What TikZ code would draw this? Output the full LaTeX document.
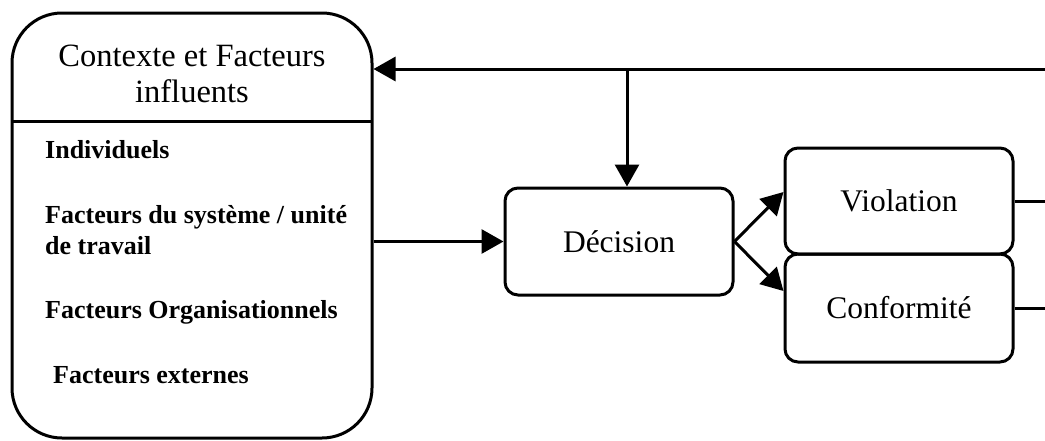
\documentclass[tikz,border=0pt]{standalone}
\usepackage{fontspec}
\setmainfont{Liberation Serif}
\usetikzlibrary{arrows.meta}
\tikzset{
  lw/.style={line width=3pt},
  arr/.style={lw, -{Triangle[length=22pt,width=24pt]}},
  bigbox/.style={draw, lw, rounded corners=50pt, inner sep=0pt},
  smallbox/.style={draw, lw, rounded corners=13pt, inner sep=0pt, minimum width=228pt, font=\fontsize{31.5}{36}\selectfont},
  titletxt/.style={inner sep=0pt, anchor=base, font=\fontsize{32.5}{36}\selectfont},
  itemtxt/.style={inner sep=0pt, anchor=base west, font=\bfseries\fontsize{26}{30}\selectfont},
}
\begin{document}
\begin{tikzpicture}[x=1pt,y=-1pt]
\useasboundingbox (0,0) rectangle (1045,440);
% big context box
\node[bigbox, minimum width=360pt, minimum height=425pt] (ctx) at (192,225.5) {};
\coordinate (divL) at (12,121);
\coordinate (divR) at (372,121);
\draw[lw] (divL) -- (divR);
\node[titletxt] (t1) at (192,66) {Contexte et Facteurs};
\node[titletxt] (t2) at (192,102) {influents};
\node[itemtxt] (i1) at (45,158) {Individuels};
\node[itemtxt] (i2) at (45,223) {Facteurs du système / unité};
\node[itemtxt] (i3) at (45,254) {de travail};
\node[itemtxt] (i4) at (45,318) {Facteurs Organisationnels};
\node[itemtxt] (i5) at (53,383) {Facteurs externes};
% process boxes
\node[smallbox, minimum height=107pt] (dec) at (619,241.5) {Décision};
\node[smallbox, minimum height=106pt] (vio) at (899,201) {Violation};
\node[smallbox, minimum height=108pt] (con) at (899,308) {Conformité};
% connectors
\coordinate (topR) at (1045,69);
\coordinate (junc) at (627,69);
\coordinate (vioR) at (1045,201);
\coordinate (conR) at (1045,308);
\draw[arr] (topR) -- (ctx.east |- topR);
\draw[arr] (junc) -- (junc |- dec.north);
\draw[arr] (ctx.east |- dec.west) -- (dec.west);
\draw[arr] (dec.east) -- ([yshift=9pt]vio.west);
\draw[arr] (dec.east) -- ([yshift=17pt]con.west);
\draw[lw] (vio.east) -- (vioR);
\draw[lw] (con.east) -- (conR);
\end{tikzpicture}
\end{document}
